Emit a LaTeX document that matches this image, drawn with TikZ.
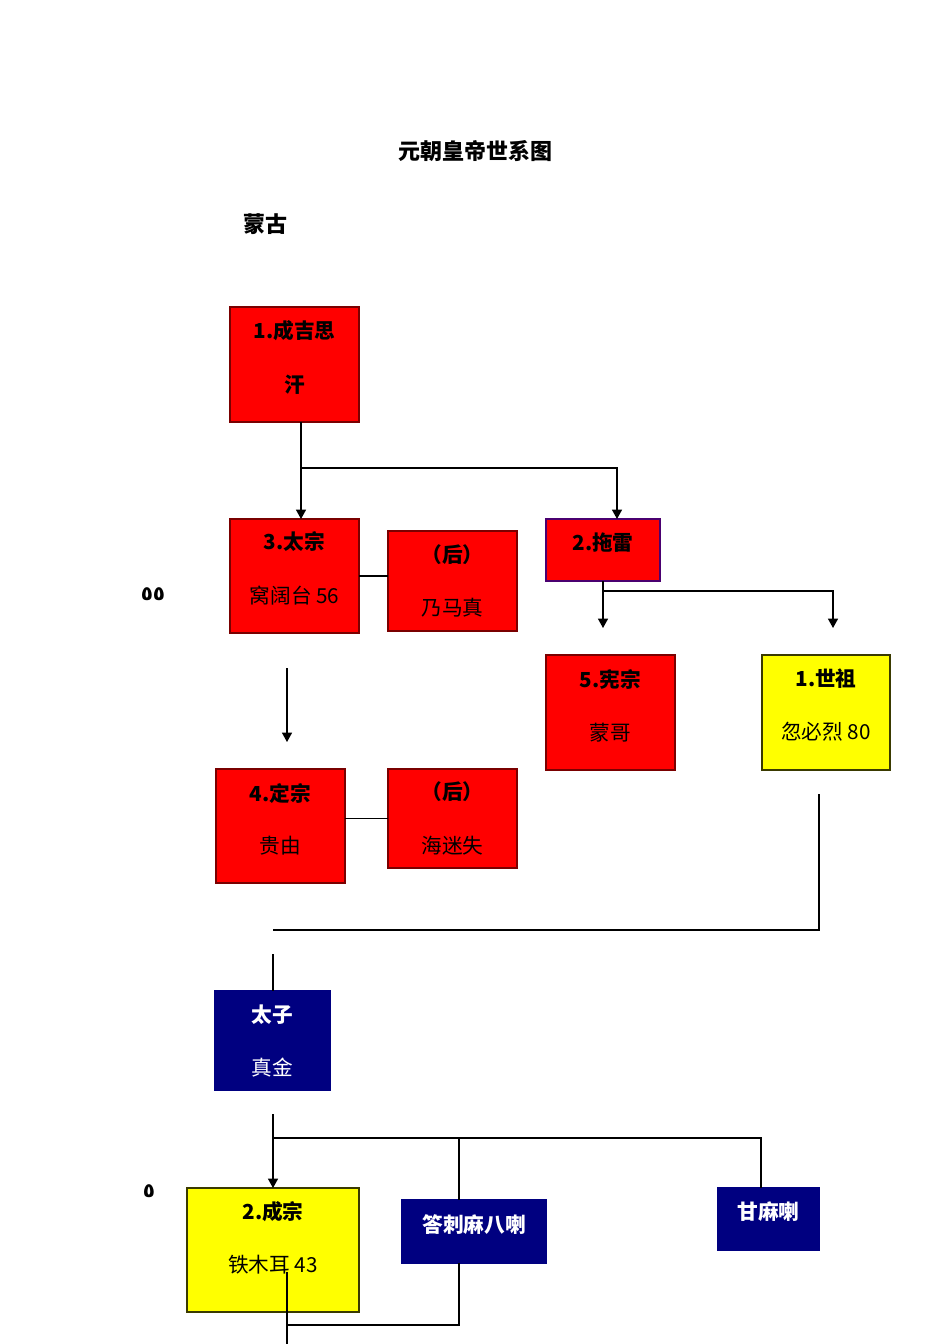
\documentclass[tikz,border=0pt]{standalone}
\usepackage{fontspec}
\setmainfont{Noto Sans CJK SC}
\newfontfamily\arabicfont[Script=Arabic]{DejaVu Sans}
\TeXXeTstate=1
\usetikzlibrary{arrows.meta,calc}
\definecolor{boxred}{HTML}{FF0000}
\definecolor{edgered}{HTML}{7A0000}
\definecolor{boxyel}{HTML}{FFFF00}
\definecolor{edgeyel}{HTML}{3A3A00}
\definecolor{navy}{HTML}{000080}
\definecolor{edgepur}{HTML}{4A0070}
\begin{document}
\begin{tikzpicture}[x=0.75pt,y=-0.75pt,
  bx/.style 2 args={anchor=north west, inner sep=0pt, outer sep=0pt,
    minimum width=#1*0.75pt, minimum height=#2*0.75pt, line width=1pt},
  redbox/.style={fill=boxred, draw=edgered},
  yelbox/.style={fill=boxyel, draw=edgeyel},
  navybox/.style={fill=navy, draw=navy},
  hd/.style={font=\fontsize{15.5}{18}\selectfont\bfseries, inner sep=0pt},
  nm/.style={font=\fontsize{15.5}{18}\selectfont, inner sep=0pt},
  mark5/.style={font=\arabicfont\fontsize{15}{17}\selectfont\bfseries, inner sep=0pt},
  ln/.style={line width=0.85pt, draw=black},
  arr/.style={ln, -{Triangle[width=7.5pt,length=7pt]}}]
\useasboundingbox (0,0) rectangle (950,1344);
\fill[white] (0,0) rectangle (950,1344);

% headings
\node[font=\fontsize{16.5}{20}\selectfont\bfseries, inner sep=0pt] (title) at (475,151) {元朝皇帝世系图};
\node[font=\fontsize{16.5}{20}\selectfont\bfseries, inner sep=0pt] (menggu) at (265,224) {蒙古};
\node[mark5] (m55) at (153,594) {\beginR ٥٥\endR};
\node[mark5] (m5) at (149,1191) {\beginR ٥\endR};

% boxes
\node[bx={129}{115}, redbox] (b1) at (230,307) {};
\node[bx={129}{114}, redbox] (b3) at (230,519) {};
\node[bx={129}{100}, redbox] (h1) at (388,531) {};
\node[bx={114}{62}, fill=boxred, draw=edgepur] (b2) at (546,519) {};
\node[bx={129}{115}, redbox] (b5) at (546,655) {};
\node[bx={128}{115}, yelbox] (sz) at (762,655) {};
\node[bx={129}{114}, redbox] (b4) at (216,769) {};
\node[bx={129}{99}, redbox] (h2) at (388,769) {};
\node[bx={115}{99}, navybox] (tz) at (215,991) {};
\node[bx={172}{124}, yelbox] (cz) at (187,1188) {};
\node[bx={144}{63}, navybox] (dl) at (402,1200) {};
\node[bx={101}{62}, navybox] (gm) at (718,1188) {};

% box texts
\node[hd] (t1a) at (294.5,331) {1.成吉思};
\node[hd] (t1b) at (294.5,385) {汗};
\node[hd] (t3a) at (294.5,542) {3.太宗};
\node[nm] (t3b) at (294.5,596) {窝阔台 56};
\node[hd] (th1a) at (452.5,555) {（后）};
\node[nm] (th1b) at (452.5,608) {乃马真};
\node[hd] (t2a) at (603,543) {2.拖雷};
\node[hd] (t5a) at (610.5,679) {5.宪宗};
\node[nm] (t5b) at (610.5,733) {蒙哥};
\node[hd] (tsa) at (826,679) {1.世祖};
\node[nm] (tsb) at (826,732) {忽必烈 80};
\node[hd] (t4a) at (280.5,793) {4.定宗};
\node[nm] (t4b) at (280.5,846) {贵由};
\node[hd] (th2a) at (452.5,792) {（后）};
\node[nm] (th2b) at (452.5,846) {海迷失};
\node[hd, text=white] (tza) at (272.5,1015) {太子};
\node[nm, text=white] (tzb) at (272.5,1068) {真金};
\node[hd] (tca) at (273,1212) {2.成宗};
\node[nm] (tcb) at (273,1265) {铁木耳 43};
\node[hd, text=white] (tda) at (474,1225) {答刺麻八喇};
\node[hd, text=white] (tga) at (768.5,1212) {甘麻喇};

% coordinates
\coordinate (j1) at (301,468);
\coordinate (j2) at (617,468);
\coordinate (j3) at (603,591);
\coordinate (e1) at (603,628);
\coordinate (e2) at (833,628);
\coordinate (a1) at (287,668);
\coordinate (a2) at (287,742);
\coordinate (k1) at (819,794);
\coordinate (k2) at (819,930);
\coordinate (k3) at (273,930);
\coordinate (k4) at (273,954);
\coordinate (s1) at (273,1114);
\coordinate (j5) at (273,1138);
\coordinate (j6) at (459,1138);
\coordinate (j7) at (761,1138);
\coordinate (d1) at (459,1325);
\coordinate (d2) at (287,1325);
\coordinate (d3) at (287,1272);
\coordinate (d4) at (287,1344);

% connectors
\draw[arr] (b1.south -| j1) -- (j1 |- b3.north);
\draw[arr] (j1) -| (j2 |- b2.north);
\draw[ln] (b3.east) -- (h1.west |- b3.east);
\draw[arr] (b2.south) -- (e1);
\draw[arr] (j3) -| (e2);
\draw[arr] (a1) -- (a2);
\draw[ln] (b4.east |- h2.west) -- (h2.west);
\draw[ln] (k1) -- (k2) -- (k3);
\draw[ln] (k4) -- (k4 |- tz.north);
\draw[arr] (s1) -- (s1 |- cz.north);
\draw[ln] (j5) -- (j7) -- (j7 |- gm.north);
\draw[ln] (j6) -- (j6 |- dl.north);
\draw[ln] (j6 |- dl.south) -- (d1) -- (d2);
\draw[ln] (d3) -- (d4);
\end{tikzpicture}
\end{document}
